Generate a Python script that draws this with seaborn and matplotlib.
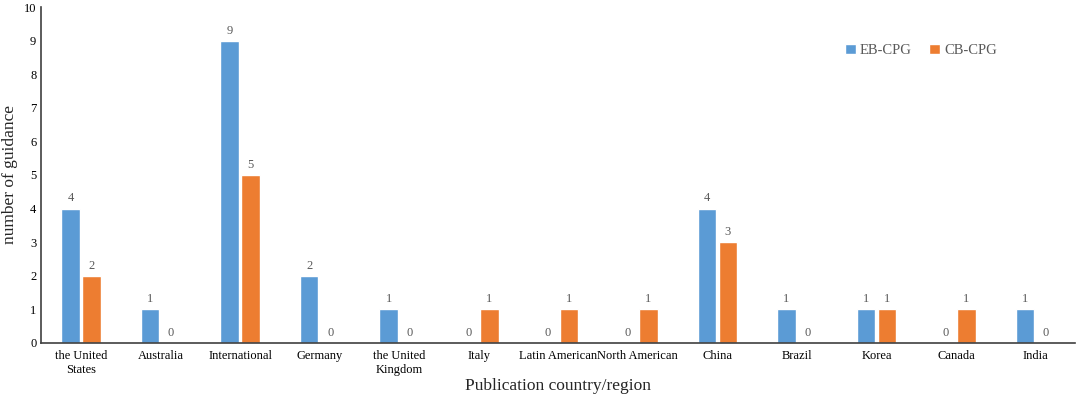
import matplotlib
matplotlib.use("Agg")
import matplotlib.pyplot as plt
import seaborn as sns
import pandas as pd

countries = ["the United\nStates", "Australia", "International", "Germany",
             "the United\nKingdom", "Italy", "Latin American", "North American",
             "China", "Brazil", "Korea", "Canada", "India"]
eb_cpg = [4, 1, 9, 2, 1, 0, 0, 0, 4, 1, 1, 0, 1]
cb_cpg = [2, 0, 5, 0, 0, 1, 1, 1, 3, 0, 1, 1, 0]

df = pd.DataFrame({
    "country": countries * 2,
    "value": eb_cpg + cb_cpg,
    "type": ["EB-CPG"] * len(countries) + ["CB-CPG"] * len(countries),
})

sns.set_style("white")
plt.rcParams["font.family"] = ["Liberation Serif", "DejaVu Serif"]

fig = plt.figure(figsize=(10.84, 3.95), dpi=100)
ax = fig.add_axes([0.038, 0.132, 0.954, 0.85])
sns.barplot(data=df, x="country", y="value", hue="type",
            palette=["#5B9BD5", "#ED7D31"], width=0.53, gap=0.12,
            saturation=1, ax=ax)

for c in ax.containers:
    ax.bar_label(c, fmt="%d", padding=3, fontsize=9, color="#595959")

ax.set_ylim(0, 10)
ax.set_yticks(range(0, 11))
ax.set_xlim(-0.5, len(countries) - 0.5)
ax.tick_params(axis="both", length=0, labelsize=9, colors="black")
ax.tick_params(axis="x", pad=5)
ax.set_xlabel("Publication country/region", fontsize=12.5, labelpad=2)
ax.set_ylabel("number of guidance", fontsize=12.5)
sns.despine(ax=ax)
for s in ["left", "bottom"]:
    ax.spines[s].set_color("#404040")
    ax.spines[s].set_linewidth(1.2)

ax.legend(loc="upper left", bbox_to_anchor=(0.765, 0.93), ncol=2, frameon=False,
          fontsize=10.5, handlelength=0.7, handleheight=0.7, columnspacing=1.2,
          handletextpad=0.3, labelcolor="#595959")

fig.savefig("out.png", dpi=100)
